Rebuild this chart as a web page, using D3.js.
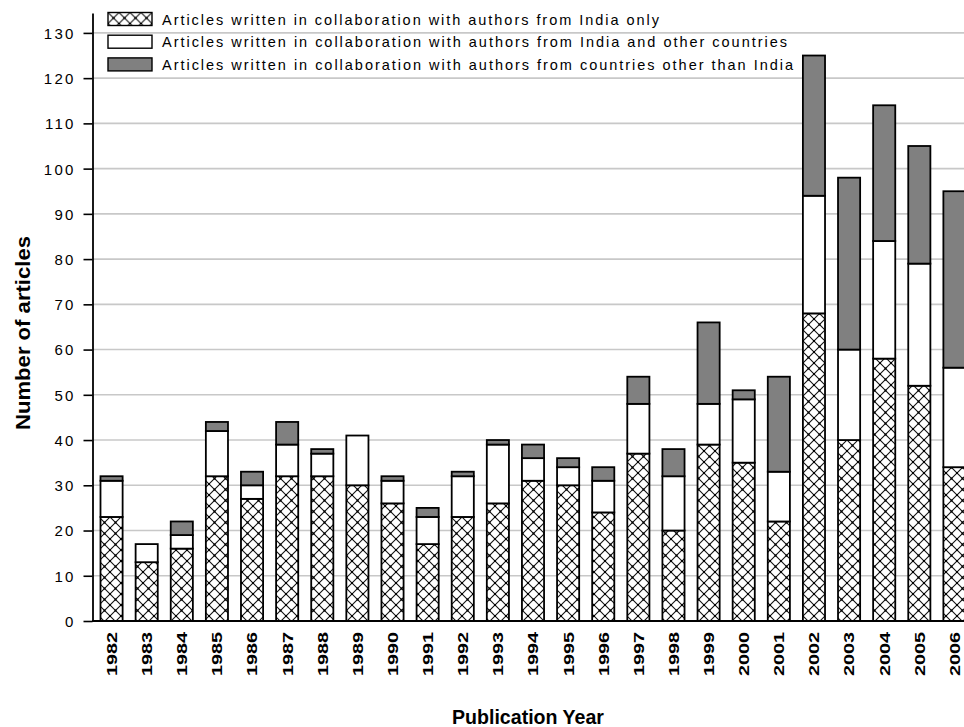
<!DOCTYPE html>
<html>
<head>
<meta charset="utf-8">
<script src="https://cdn.jsdelivr.net/npm/d3@7"></script>
<style>
  html, body { margin: 0; padding: 0; background: #fff; }
  svg { display: block; }
  text { font-family: "Liberation Sans", Arial, sans-serif; fill: #000; }
</style>
</head>
<body>
<svg id="chart" width="964" height="727"></svg>
<script>
const years = ["1982","1983","1984","1985","1986","1987","1988","1989","1990","1991","1992","1993","1994","1995","1996","1997","1998","1999","2000","2001","2002","2003","2004","2005","2006"];
const indiaOnly    = [23,13,16,32,27,32,32,30,26,17,23,26,31,30,24,37,20,39,35,22,68,40,58,52,34];
const indiaAndOther= [ 8, 4, 3,10, 3, 7, 5,11, 5, 6, 9,13, 5, 4, 7,11,12, 9,14,11,26,20,26,27,22];
const otherOnly    = [ 1, 0, 3, 2, 3, 5, 1, 0, 1, 2, 1, 1, 3, 2, 3, 6, 6,18, 2,21,31,38,30,26,39];
const seriesKeys = ["indiaOnly","indiaAndOther","otherOnly"];
const legendLabels = [
  "Articles written in collaboration with authors from India only",
  "Articles written in collaboration with authors from India and other countries",
  "Articles written in collaboration with authors from countries other than India"
];
const yTicks = [0,10,20,30,40,50,60,70,80,90,100,110,120,130];
const xTitle = "Publication Year";
const yTitle = "Number of articles";

const table = years.map((y,i) => ({year:y, indiaOnly:indiaOnly[i], indiaAndOther:indiaAndOther[i], otherOnly:otherOnly[i]}));

const svg = d3.select("#chart");
const defs = svg.append("defs");
const pat = defs.append("pattern").attr("id","hatch").attr("patternUnits","userSpaceOnUse")
  .attr("width",11).attr("height",11);
pat.append("rect").attr("width",11).attr("height",11).attr("fill","#fff");
pat.append("path").attr("d","M0,0L11,11M11,0L0,11").attr("stroke","#111").attr("stroke-width",1.1);
pat.append("rect").attr("x",4.5).attr("y",4.5).attr("width",2).attr("height",2).attr("fill","#000");
pat.append("rect").attr("x",-1).attr("y",-1).attr("width",2).attr("height",2).attr("fill","#000");
pat.append("rect").attr("x",10).attr("y",-1).attr("width",2).attr("height",2).attr("fill","#000");
pat.append("rect").attr("x",-1).attr("y",10).attr("width",2).attr("height",2).attr("fill","#000");
pat.append("rect").attr("x",10).attr("y",10).attr("width",2).attr("height",2).attr("fill","#000");

const fills = {indiaOnly:"url(#hatch)", indiaAndOther:"#ffffff", otherOnly:"#808080"};

const x = d3.scaleBand().domain(years).range([94, 972]).paddingInner(0.37).paddingOuter(0.185);
const y = d3.scaleLinear().domain([0, 134.4]).range([621, 13]);

// gridlines
svg.append("g").selectAll("line").data(yTicks.filter(d => d > 0)).join("line")
  .attr("x1", 93).attr("x2", 964)
  .attr("y1", d => y(d)).attr("y2", d => y(d))
  .attr("stroke", "#c8c8c8").attr("stroke-width", 1.6);

// bars
const stack = d3.stack().keys(seriesKeys)(table);
svg.append("g").selectAll("g").data(stack).join("g")
  .attr("fill", d => fills[d.key])
  .selectAll("rect").data(d => d.filter(s => s[1] - s[0] > 0)).join("rect")
  .attr("x", d => x(d.data.year))
  .attr("width", x.bandwidth())
  .attr("y", d => y(d[1]))
  .attr("height", d => y(d[0]) - y(d[1]))
  .attr("stroke", "#000").attr("stroke-width", 1.8);

// y axis
const yAxis = d3.axisLeft(y).tickValues(yTicks).tickSize(9).tickSizeOuter(0).tickPadding(8);
const ya = svg.append("g").attr("transform","translate(92.5,0)").call(yAxis);
ya.select(".domain").attr("stroke","#000").attr("stroke-width",1.8);
ya.selectAll(".tick line").attr("stroke","#000").attr("stroke-width",1.6);
ya.selectAll(".tick text").attr("font-size",15).attr("font-family","Liberation Sans, Arial, sans-serif")
  .attr("letter-spacing","2.2px").attr("dy","0.36em").attr("fill","#111");

// x baseline
svg.append("line").attr("x1",92).attr("x2",964).attr("y1",y(0)).attr("y2",y(0))
  .attr("stroke","#000").attr("stroke-width",2);

// x labels
const xAxis = d3.axisBottom(x).tickSize(0).tickPadding(0);
const xa = svg.append("g").attr("transform",`translate(0,${y(0)})`).call(xAxis);
xa.select(".domain").remove();
xa.selectAll(".tick text")
  .attr("transform","rotate(-90)")
  .attr("text-anchor","end")
  .attr("x",-11).attr("y",0).attr("dy","0.36em")
  .attr("font-size",15).attr("font-weight","bold")
  .attr("font-family","Liberation Sans, Arial, sans-serif")
  .attr("textLength",44).attr("lengthAdjust","spacingAndGlyphs");

// titles
svg.append("text").attr("x",528).attr("y",724).attr("text-anchor","middle")
  .attr("font-size",21).attr("font-weight","bold")
  .attr("textLength",152).attr("lengthAdjust","spacingAndGlyphs")
  .text(xTitle);
svg.append("text").attr("transform","translate(30,333) rotate(-90)").attr("text-anchor","middle")
  .attr("font-size",21).attr("font-weight","bold")
  .attr("textLength",194).attr("lengthAdjust","spacingAndGlyphs")
  .text(yTitle);

// legend
const legendWidths = [497, 625, 631];
const lg = svg.append("g").selectAll("g").data(seriesKeys).join("g")
  .attr("transform",(d,i) => `translate(108,${12.5 + i*22.7})`);
lg.append("rect").attr("width",44).attr("height",13)
  .attr("fill", d => fills[d]).attr("stroke","#000").attr("stroke-width",1.4);
lg.append("text").attr("x",54).attr("y",12)
  .attr("font-size",14.5)
  .attr("textLength",(d,i) => legendWidths[i]).attr("lengthAdjust","spacing")
  .text((d,i) => legendLabels[i]);
</script>
</body>
</html>
